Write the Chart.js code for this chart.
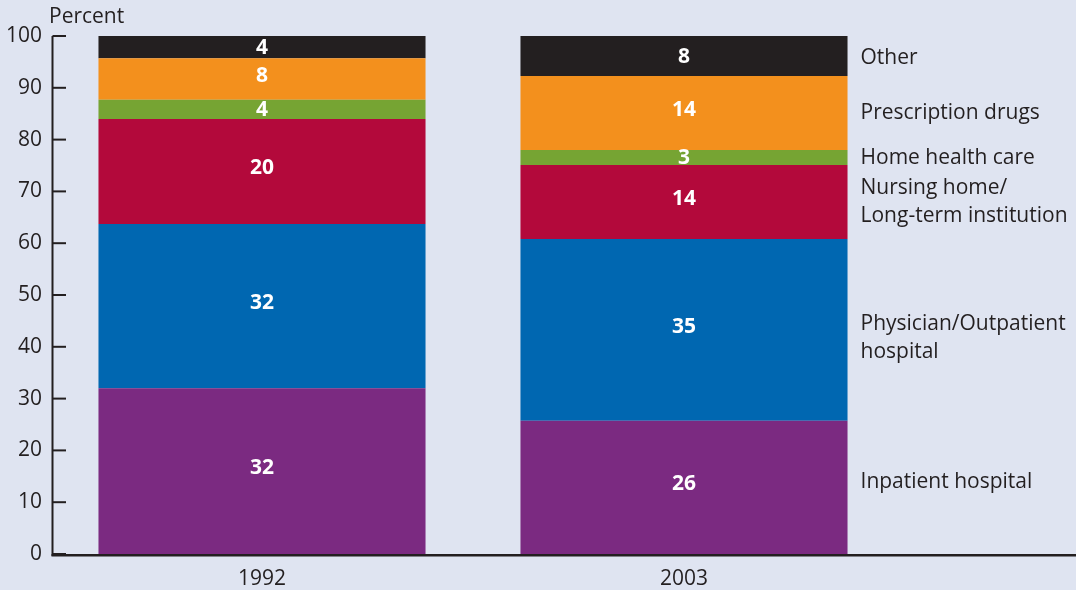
<!DOCTYPE html>
<html>
<head>
<meta charset="utf-8">
<script src="https://cdn.jsdelivr.net/npm/chart.js@4"></script>
<style>
  html, body { margin: 0; padding: 0; background: #dfe4f1; }
  #wrap { width: 1076px; height: 590px; position: relative; }
</style>
</head>
<body>
<div id="wrap"><canvas id="spendChart"></canvas></div>
<script>
const years = ["1992", "2003"];

// series, bottom to top, percent of spending
const inpatient    = [32.0, 25.7];
const physician    = [31.7, 35.1];
const nursingHome  = [20.3, 14.3];
const homeHealth   = [3.7, 2.9];
const prescription = [8.0, 14.3];
const other        = [4.3, 7.7];

const seriesNames = [
    ["Inpatient hospital"],
    ["Physician/Outpatient", "hospital"],
    ["Nursing home/", "Long-term institution"],
    ["Home health care"],
    ["Prescription drugs"],
    ["Other"]
];
const seriesColors = ["#7b2a81", "#0067b1", "#b3093b", "#76a433", "#f3901d", "#231f20"];
const yMin = 0, yMax = 100, yStep = 10;

const ink = "#231f20";
const font = "'Open Sans', 'Noto Sans', sans-serif";

const decor = {
    id: "decor",
    afterDatasetsDraw(chart) {
        const ctx = chart.ctx;
        const area = chart.chartArea;
        const yScale = chart.scales.y;
        ctx.save();

        // value labels inside segments
        ctx.fillStyle = "#ffffff";
        ctx.font = "bold 21px " + font;
        ctx.textAlign = "center";
        ctx.textBaseline = "middle";
        chart.data.datasets.forEach((ds, i) => {
            chart.getDatasetMeta(i).data.forEach((bar, j) => {
                const h = bar.base - bar.y;
                const cy = (bar.y + bar.base) / 2 - (h > 40 ? 4 : 0) + 1;
                ctx.fillText(String(Math.round(ds.data[j])), bar.x, cy);
            });
        });

        // series names to the right of the last column
        ctx.fillStyle = ink;
        ctx.font = "21px " + font;
        ctx.textAlign = "left";
        const nudge = [-6, 7, -1, 0, -1, 1];
        const lastIdx = years.length - 1;
        chart.data.datasets.forEach((ds, i) => {
            const bar = chart.getDatasetMeta(i).data[lastIdx];
            const lines = seriesNames[i];
            const cy = (bar.y + bar.base) / 2 + nudge[i] + 1;
            const lh = 28;
            lines.forEach((t, k) => {
                ctx.fillText(t, bar.x + bar.width / 2 + 13, cy + (k - (lines.length - 1) / 2) * lh);
            });
        });

        // axes
        ctx.strokeStyle = ink;
        ctx.lineWidth = 2;
        ctx.beginPath();
        ctx.moveTo(area.left + 1.5, area.top);
        ctx.lineTo(area.left + 1.5, area.bottom + 2);
        ctx.stroke();
        ctx.lineWidth = 2.5;
        ctx.beginPath();
        ctx.moveTo(area.left + 0.5, area.bottom + 1.3);
        ctx.lineTo(chart.width, area.bottom + 1.3);
        ctx.stroke();

        // inward tick marks
        ctx.lineWidth = 2;
        yScale.ticks.forEach(t => {
            const py = yScale.getPixelForValue(t.value);
            ctx.beginPath();
            ctx.moveTo(area.left + 1.5, py);
            ctx.lineTo(area.left + 15, py);
            ctx.stroke();
        });

        // unit label
        ctx.font = "21px " + font;
        ctx.textBaseline = "alphabetic";
        ctx.fillText("Percent", area.left - 2, area.top - 13);
        ctx.restore();
    }
};

const datasets = [inpatient, physician, nursingHome, homeHealth, prescription, other].map((vals, i) => ({
    label: seriesNames[i].join(" "),
    data: vals,
    backgroundColor: seriesColors[i],
    borderWidth: 0,
    barPercentage: 0.775,
    categoryPercentage: 1
}));

new Chart(document.getElementById("spendChart"), {
    type: "bar",
    data: { labels: years, datasets: datasets },
    options: {
        responsive: true,
        maintainAspectRatio: false,
        animation: false,
        layout: { padding: { top: 36, right: 181, left: 0, bottom: 0 } },
        plugins: {
            legend: { display: false },
            tooltip: { enabled: false }
        },
        scales: {
            x: {
                stacked: true,
                grid: { display: false, drawTicks: false },
                border: { display: false },
                ticks: { color: ink, font: { family: font, size: 21 }, padding: 12 },
                afterFit: s => { s.height = 36; }
            },
            y: {
                stacked: true,
                min: yMin,
                max: yMax,
                grid: { display: false, drawTicks: false },
                border: { display: false },
                ticks: { stepSize: yStep, color: ink, font: { family: font, size: 21 }, padding: 9 },
                afterFit: s => { s.width = 51; }
            }
        }
    },
    plugins: [decor]
});
</script>
</body>
</html>
